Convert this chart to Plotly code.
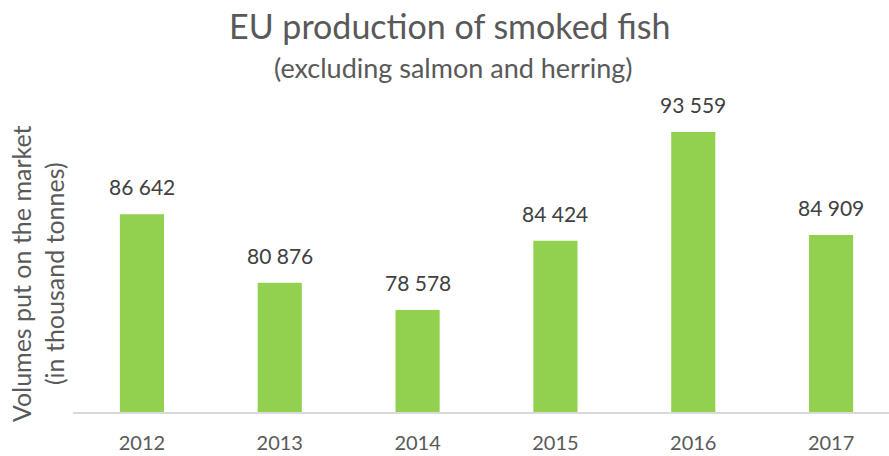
import plotly.graph_objects as go

years = ["2012", "2013", "2014", "2015", "2016", "2017"]
volumes = [86642, 80876, 78578, 84424, 93559, 84909]
labels = [f"{v:,}".replace(",", " ") for v in volumes]

FONT = "Lato, 'Open Sans', sans-serif"
GREY = "#595959"

fig = go.Figure()
fig.add_trace(go.Bar(
    x=years, y=volumes,
    marker=dict(color="#92D050", line=dict(width=0)),
    cliponaxis=False, hoverinfo="x+y",
))

L, T, B = 73, 115, 44
W, H = 889, 456
pw = W - L
ph = H - T - B

def px_x(p):
    return (p - L) / pw

def px_y(p):
    return (H - B - p) / ph

annotations = [
    dict(text=lab, x=i, y=v, xref="x", yref="y", showarrow=False,
         xanchor="center", yanchor="bottom", yshift=13,
         font=dict(family=FONT, size=21, color="#404040"))
    for i, (v, lab) in enumerate(zip(volumes, labels))
]
annotations += [
    dict(text="EU production of smoked fish", x=px_x(450), y=px_y(26),
         xref="paper", yref="paper", showarrow=False,
         xanchor="center", yanchor="middle",
         font=dict(family=FONT, size=34, color=GREY)),
    dict(text="(excluding salmon and herring)", x=px_x(453), y=px_y(67),
         xref="paper", yref="paper", showarrow=False,
         xanchor="center", yanchor="middle",
         font=dict(family=FONT, size=27, color=GREY)),
    dict(text="Volumes put on the market<br>(in thousand tonnes)",
         x=px_x(37), y=px_y(274), xref="paper", yref="paper",
         showarrow=False, textangle=-90, xanchor="center", yanchor="middle",
         font=dict(family=FONT, size=25, color=GREY)),
]

fig.update_layout(
    width=W, height=H,
    margin=dict(l=L, r=0, t=T, b=B),
    paper_bgcolor="white", plot_bgcolor="white",
    showlegend=False,
    bargap=0.68,
    xaxis=dict(type="category", range=[-0.5, 5.42], showgrid=False,
               showline=True, linecolor="#d9d9d9", linewidth=2,
               ticks="outside", ticklen=12, tickcolor="rgba(0,0,0,0)",
               tickfont=dict(family=FONT, size=20, color=GREY)),
    yaxis=dict(range=[70000, 95000], showgrid=False, showticklabels=False,
               zeroline=False, showline=False),
    annotations=annotations,
)

fig.write_html("out.html", config={"displayModeBar": False},
               post_script="document.body.style.margin='0';")
